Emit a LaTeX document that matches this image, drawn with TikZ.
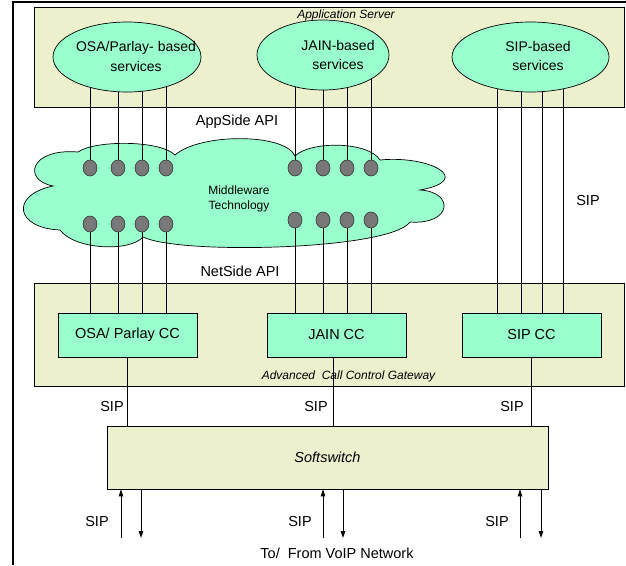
\documentclass[tikz,border=0pt]{standalone}
\usepackage{fontspec}
\setmainfont{Liberation Sans}
\usetikzlibrary{shapes.geometric,arrows.meta,calc}
\definecolor{beige}{RGB}{236,240,205}
\definecolor{mint}{RGB}{153,255,204}
\definecolor{dotgray}{RGB}{120,120,120}
\pgfdeclarelayer{back}
\pgfdeclarelayer{mid}
\pgfsetlayers{back,mid,main}
\begin{document}
\begin{tikzpicture}[x=1pt,y=-1pt,
  lbl/.style={font=\fontsize{14.5}{16}\selectfont, inner sep=0pt},
  ital/.style={font=\fontsize{12}{14}\selectfont\itshape, inner sep=0pt},
  box/.style={draw=black, line width=0.7pt, rectangle, inner sep=0pt},
  svc/.style={ellipse, draw=black, fill=mint, line width=0.7pt, inner sep=0pt},
  svct/.style={align=center, inner sep=0pt, font=\fontsize{14}{19.5}\selectfont},
  dot/.style={ellipse, draw=black!80, fill=dotgray, minimum width=14pt, minimum height=16pt, inner sep=0pt, line width=0.6pt},
  wire/.style={line width=0.8pt},
  arr/.style={line width=0.8pt, -{Triangle[length=7pt,width=4.5pt]}}
]
\useasboundingbox (0,0) rectangle (626,565);
\draw[line width=2pt] (13,565) -- (13,2) -- (626,2);

\begin{pgfonlayer}{back}
  \node[box, fill=beige, minimum width=590pt, minimum height=100pt] (appsrv) at (329,57) {};
  \node[box, fill=beige, minimum width=590pt, minimum height=103pt] (gw) at (329,334.5) {};
  \draw[fill=mint, line width=0.7pt] (53,186)
    .. controls (22,180) and (30,148) .. (78,152)
    .. controls (95,140) and (160,140) .. (175,155)
    .. controls (200,133) and (285,133) .. (295,156)
    .. controls (310,141) and (368,141) .. (380,160)
    .. controls (430,155) and (475,180) .. (420,190)
    .. controls (455,192) and (452,225) .. (410,222)
    .. controls (390,250) and (180,255) .. (143,237)
    .. controls (130,252) and (75,250) .. (60,230)
    .. controls (15,228) and (10,195) .. (53,186) -- cycle;
\end{pgfonlayer}

\node[ital] (appl) at (346,15) {Application Server};
\node[svc, minimum width=148pt, minimum height=70pt] (osa) at (127,57) {};
\node[svc, minimum width=132pt, minimum height=70pt] (jain) at (323,55) {};
\node[svc, minimum width=157pt, minimum height=70pt] (sip) at (530.5,57) {};
\node[svct] (osat) at (136,56.5) {OSA/Parlay- based\\services};
\node[svct] (jaint) at (338,55) {JAIN-based\\services};
\node[svct] (sipt) at (538,56) {SIP-based\\services};

\node[lbl] (appside) at (237,122) {AppSide API};
\node[font=\fontsize{12}{15}\selectfont, align=center, inner sep=0pt] (mw) at (239,199) {Middleware\\Technology};
\node[lbl] (netside) at (240,271) {NetSide API};
\node[lbl] (sipr) at (588,201) {SIP};

\foreach \x [count=\i] in {90,118,142,166} {
  \node[dot] (ot\i) at (\x,168) {};
  \node[dot] (ob\i) at (\x,224) {};
}
\foreach \x [count=\i] in {295,323,347,371} {
  \node[dot] (jt\i) at (\x,168) {};
  \node[dot] (jb\i) at (\x,220) {};
}
\foreach \x [count=\i] in {497,521,542,563} {
  \coordinate (s\i) at (\x,313);
}

\node[box, fill=mint, minimum width=139pt, minimum height=44pt, lbl] (osacc) at (127.5,335) {OSA/ Parlay CC};
\node[box, fill=mint, minimum width=139pt, minimum height=44pt, lbl] (jaincc) at (336.5,335) {JAIN CC};
\node[box, fill=mint, minimum width=139pt, minimum height=44pt, lbl] (sipcc) at (531.5,335) {SIP CC};
\node[ital] (gwl) at (348.5,376) {Advanced\ \ Call Control Gateway};

\node[box, fill=beige, minimum width=441pt, minimum height=63pt, font=\fontsize{14.5}{16}\selectfont\itshape] (soft) at (327.5,457.5) {Softswitch};

\coordinate (jx) at (333,357);

\begin{pgfonlayer}{mid}
  \foreach \i in {1,...,4} {
    \draw[wire] (ot\i.center) -- (ot\i.center |- osa.center);
    \draw[wire] (ob\i.center) -- (ob\i.center |- osacc.north);
    \draw[wire] (jt\i.center) -- (jt\i.center |- jain.center);
    \draw[wire] (jb\i.center) -- (jb\i.center |- jaincc.north);
    \draw[wire] (s\i) -- (s\i |- sip.center);
  }
  \draw[wire] (osacc.south) -- (osacc.south |- soft.north);
  \draw[wire] (jx) -- (jx |- soft.north);
  \draw[wire] (sipcc.south) -- (sipcc.south |- soft.north);
\end{pgfonlayer}

\node[lbl] (sip1) at (112,407) {SIP};
\node[lbl] (sip2) at (316,407) {SIP};
\node[lbl] (sip3) at (512,407) {SIP};

\foreach \x/\n in {121/1,323/2,520/3} {
  \coordinate (up\n) at (\x,538);
  \draw[arr] (up\n) -- (up\n |- soft.south);
}
\foreach \x/\n in {141/1,343/2,541/3} {
  \coordinate (dn\n) at (\x,538);
  \draw[arr] (dn\n |- soft.south) -- (dn\n);
}
\node[lbl] (sipb1) at (97,521) {SIP};
\node[lbl] (sipb2) at (300,521) {SIP};
\node[lbl] (sipb3) at (497,521) {SIP};
\node[lbl] (voip) at (337,553) {To/\ \ From VoIP Network};
\end{tikzpicture}
\end{document}
